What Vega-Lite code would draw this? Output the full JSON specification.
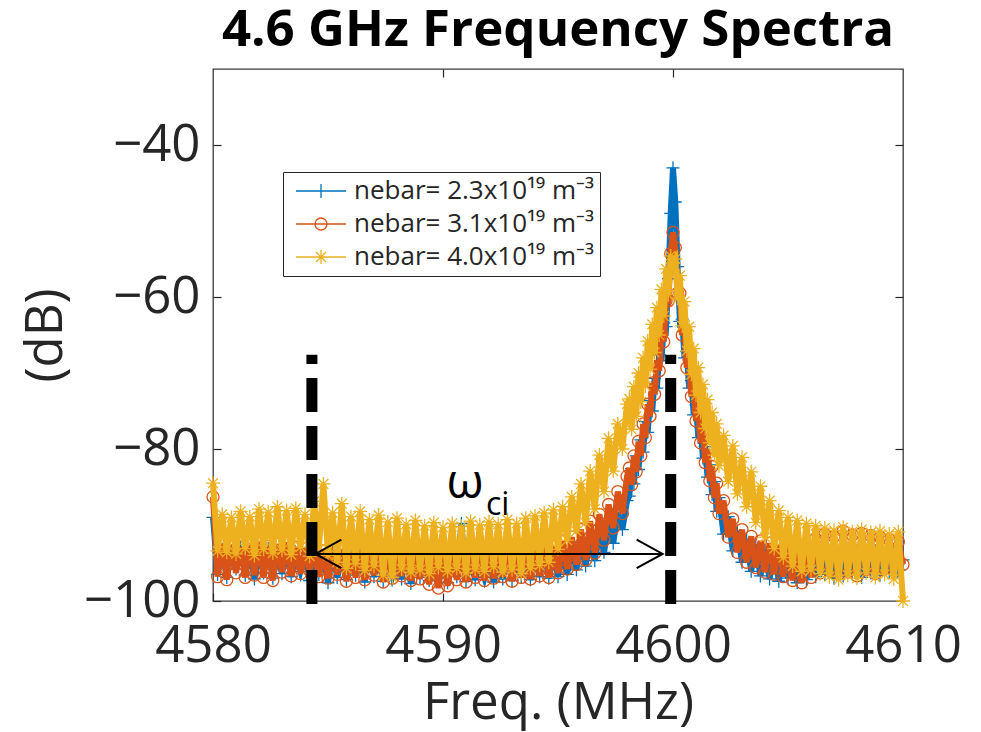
{
  "$schema": "https://vega.github.io/schema/vega-lite/v6.json",
  "width": 690,
  "height": 532,
  "autosize": "none",
  "padding": {"left": 213, "top": 69, "right": 78, "bottom": 131},
  "background": "white",
  "title": {"text": "4.6 GHz Frequency Spectra", "font": "Open Sans", "fontSize": 51, "fontWeight": "bold", "color": "black", "anchor": "middle", "offset": 19, "dy": 48, "baseline": "alphabetic", "frame": "group"},
  "config": {
    "view": {"stroke": "#3a3a3a", "strokeWidth": 1.3},
    "axis": {"labelFont": "Open Sans", "labelFontSize": 51, "labelColor": "#262626", "titleFont": "Open Sans", "titleFontSize": 51, "titleFontWeight": "normal", "titleColor": "#262626", "domain": false, "grid": false, "tickColor": "#262626", "tickSize": -8, "tickWidth": 1.2, "labelFlush": false, "labelOverlap": false}
  },
  "layer": [
    {
      "data": {"values": [
        {"f":4580.0,"a":-89.0,"b":-86.3,"c":-84.5},
        {"f":4580.2,"a":-96.5,"b":-96.8,"c":-93.4},
        {"f":4580.4,"a":-93.2,"b":-92.5,"c":-88.6},
        {"f":4580.6,"a":-96.9,"b":-97.2,"c":-93.6},
        {"f":4580.8,"a":-93.5,"b":-92.6,"c":-89.0},
        {"f":4581.0,"a":-95.8,"b":-96.3,"c":-93.8},
        {"f":4581.2,"a":-92.9,"b":-92.9,"c":-88.2},
        {"f":4581.4,"a":-96.6,"b":-96.9,"c":-93.1},
        {"f":4581.6,"a":-93.4,"b":-92.4,"c":-88.9},
        {"f":4581.8,"a":-97.1,"b":-96.6,"c":-94.0},
        {"f":4582.0,"a":-93.8,"b":-92.2,"c":-87.9},
        {"f":4582.2,"a":-96.3,"b":-96.9,"c":-93.2},
        {"f":4582.4,"a":-93.1,"b":-92.8,"c":-88.3},
        {"f":4582.6,"a":-97.0,"b":-97.3,"c":-93.7},
        {"f":4582.8,"a":-94.0,"b":-92.5,"c":-87.6},
        {"f":4583.0,"a":-96.4,"b":-96.2,"c":-93.3},
        {"f":4583.2,"a":-93.3,"b":-92.3,"c":-88.1},
        {"f":4583.4,"a":-96.8,"b":-96.7,"c":-93.9},
        {"f":4583.6,"a":-94.1,"b":-92.9,"c":-87.8},
        {"f":4583.8,"a":-96.1,"b":-96.4,"c":-92.9},
        {"f":4584.0,"a":-93.7,"b":-93.1,"c":-88.6},
        {"f":4584.2,"a":-97.3,"b":-96.0,"c":-94.1},
        {"f":4584.4,"a":-93.9,"b":-92.6,"c":-86.9},
        {"f":4584.6,"a":-96.5,"b":-96.8,"c":-93.2},
        {"f":4584.8,"a":-94.2,"b":-93.4,"c":-84.6},
        {"f":4585.0,"a":-97.6,"b":-97.0,"c":-94.0},
        {"f":4585.2,"a":-93.6,"b":-93.0,"c":-88.4},
        {"f":4585.4,"a":-96.9,"b":-96.5,"c":-94.9},
        {"f":4585.6,"a":-94.4,"b":-93.2,"c":-87.2},
        {"f":4585.8,"a":-97.2,"b":-97.4,"c":-95.7},
        {"f":4586.0,"a":-94.0,"b":-93.6,"c":-88.9},
        {"f":4586.2,"a":-96.6,"b":-96.9,"c":-95.1},
        {"f":4586.4,"a":-94.3,"b":-93.1,"c":-88.2},
        {"f":4586.6,"a":-97.5,"b":-97.2,"c":-96.0},
        {"f":4586.8,"a":-93.8,"b":-93.5,"c":-89.3},
        {"f":4587.0,"a":-96.8,"b":-96.6,"c":-95.4},
        {"f":4587.2,"a":-94.5,"b":-93.7,"c":-88.7},
        {"f":4587.4,"a":-97.4,"b":-97.5,"c":-96.6},
        {"f":4587.6,"a":-94.1,"b":-93.3,"c":-89.6},
        {"f":4587.8,"a":-96.7,"b":-97.0,"c":-96.9},
        {"f":4588.0,"a":-94.6,"b":-93.8,"c":-89.1},
        {"f":4588.2,"a":-97.1,"b":-96.7,"c":-95.8},
        {"f":4588.4,"a":-94.2,"b":-93.4,"c":-89.9},
        {"f":4588.6,"a":-97.7,"b":-97.3,"c":-96.2},
        {"f":4588.8,"a":-94.7,"b":-93.9,"c":-89.4},
        {"f":4589.0,"a":-96.9,"b":-97.1,"c":-95.9},
        {"f":4589.2,"a":-94.3,"b":-93.6,"c":-90.1},
        {"f":4589.4,"a":-97.3,"b":-97.8,"c":-96.4},
        {"f":4589.6,"a":-94.8,"b":-94.0,"c":-89.7},
        {"f":4589.8,"a":-97.0,"b":-98.3,"c":-95.6},
        {"f":4590.0,"a":-94.4,"b":-93.7,"c":-90.3},
        {"f":4590.2,"a":-97.6,"b":-98.0,"c":-96.1},
        {"f":4590.4,"a":-94.9,"b":-94.1,"c":-89.8},
        {"f":4590.6,"a":-96.8,"b":-97.2,"c":-95.7},
        {"f":4590.8,"a":-89.8,"b":-93.8,"c":-90.2},
        {"f":4591.0,"a":-97.4,"b":-97.5,"c":-96.3},
        {"f":4591.2,"a":-94.6,"b":-93.5,"c":-89.5},
        {"f":4591.4,"a":-97.2,"b":-96.9,"c":-95.8},
        {"f":4591.6,"a":-94.9,"b":-93.9,"c":-90.0},
        {"f":4591.8,"a":-96.9,"b":-97.3,"c":-96.1},
        {"f":4592.0,"a":-94.5,"b":-93.6,"c":-89.6},
        {"f":4592.2,"a":-97.5,"b":-97.0,"c":-95.5},
        {"f":4592.4,"a":-94.7,"b":-93.4,"c":-89.9},
        {"f":4592.6,"a":-97.1,"b":-96.8,"c":-96.2},
        {"f":4592.8,"a":-94.3,"b":-93.7,"c":-89.3},
        {"f":4593.0,"a":-97.3,"b":-97.4,"c":-95.9},
        {"f":4593.2,"a":-94.8,"b":-93.2,"c":-89.8},
        {"f":4593.4,"a":-96.9,"b":-96.9,"c":-96.4},
        {"f":4593.6,"a":-94.2,"b":-93.5,"c":-89.1},
        {"f":4593.8,"a":-97.2,"b":-97.1,"c":-95.7},
        {"f":4594.0,"a":-94.6,"b":-93.3,"c":-88.8},
        {"f":4594.2,"a":-96.8,"b":-96.7,"c":-95.3},
        {"f":4594.4,"a":-94.1,"b":-93.0,"c":-88.4},
        {"f":4594.6,"a":-97.0,"b":-96.9,"c":-94.9},
        {"f":4594.8,"a":-93.9,"b":-92.8,"c":-88.0},
        {"f":4595.0,"a":-96.8,"b":-96.3,"c":-93.2},
        {"f":4595.2,"a":-93.5,"b":-92.1,"c":-87.6},
        {"f":4595.4,"a":-96.5,"b":-95.8,"c":-92.0},
        {"f":4595.6,"a":-92.8,"b":-91.6,"c":-86.3},
        {"f":4595.8,"a":-95.9,"b":-95.2,"c":-90.8},
        {"f":4596.0,"a":-92.3,"b":-90.6,"c":-84.6},
        {"f":4596.2,"a":-95.4,"b":-94.6,"c":-89.7},
        {"f":4596.4,"a":-91.8,"b":-89.5,"c":-82.9},
        {"f":4596.6,"a":-94.7,"b":-93.7,"c":-87.9},
        {"f":4596.8,"a":-90.9,"b":-88.6,"c":-80.8},
        {"f":4597.0,"a":-93.6,"b":-92.0,"c":-85.6},
        {"f":4597.2,"a":-89.9,"b":-87.3,"c":-78.6},
        {"f":4597.4,"a":-92.4,"b":-90.4,"c":-82.9},
        {"f":4597.6,"a":-88.4,"b":-85.6,"c":-76.7},
        {"f":4597.8,"a":-90.6,"b":-88.5,"c":-80.0},
        {"f":4598.0,"a":-86.8,"b":-83.6,"c":-74.1},
        {"f":4598.1,"a":-86.2,"b":-82.5,"c":-73.4},
        {"f":4598.2,"a":-82.6,"b":-84.7,"c":-77.4},
        {"f":4598.3,"a":-84.6,"b":-80.9,"c":-71.8},
        {"f":4598.4,"a":-80.9,"b":-83.0,"c":-75.7},
        {"f":4598.5,"a":-82.7,"b":-79.0,"c":-70.0},
        {"f":4598.6,"a":-78.8,"b":-80.9,"c":-73.8},
        {"f":4598.7,"a":-80.4,"b":-76.7,"c":-68.0},
        {"f":4598.8,"a":-76.4,"b":-78.5,"c":-71.7},
        {"f":4598.9,"a":-77.8,"b":-74.1,"c":-65.8},
        {"f":4599.0,"a":-73.6,"b":-75.7,"c":-69.5},
        {"f":4599.1,"a":-75.0,"b":-71.3,"c":-63.6},
        {"f":4599.2,"a":-70.7,"b":-72.8,"c":-67.3},
        {"f":4599.3,"a":-72.0,"b":-68.3,"c":-61.4},
        {"f":4599.4,"a":-67.6,"b":-69.7,"c":-65.0},
        {"f":4599.5,"a":-68.4,"b":-64.9,"c":-59.0},
        {"f":4599.6,"a":-63.4,"b":-65.9,"c":-62.5},
        {"f":4599.7,"a":-63.9,"b":-60.5,"c":-56.3},
        {"f":4599.8,"a":-57.6,"b":-60.5,"c":-59.7},
        {"f":4599.9,"a":-49.0,"b":-54.3,"c":-54.6},
        {"f":4600.0,"a":-43.0,"b":-51.5,"c":-55.5},
        {"f":4600.1,"a":-47.5,"b":-53.5,"c":-55.0},
        {"f":4600.2,"a":-56.0,"b":-59.5,"c":-60.2},
        {"f":4600.3,"a":-63.2,"b":-59.5,"c":-57.2},
        {"f":4600.4,"a":-62.9,"b":-65.0,"c":-63.8},
        {"f":4600.5,"a":-68.0,"b":-64.3,"c":-60.6},
        {"f":4600.6,"a":-67.2,"b":-69.3,"c":-67.1},
        {"f":4600.7,"a":-72.0,"b":-68.3,"c":-63.9},
        {"f":4600.8,"a":-71.0,"b":-73.1,"c":-70.2},
        {"f":4600.9,"a":-75.5,"b":-71.8,"c":-66.8},
        {"f":4601.0,"a":-74.2,"b":-76.3,"c":-72.9},
        {"f":4601.1,"a":-78.5,"b":-74.8,"c":-69.3},
        {"f":4601.2,"a":-77.1,"b":-79.2,"c":-75.2},
        {"f":4601.3,"a":-81.2,"b":-77.5,"c":-71.5},
        {"f":4601.4,"a":-79.7,"b":-81.8,"c":-77.3},
        {"f":4601.5,"a":-83.7,"b":-80.0,"c":-73.5},
        {"f":4601.6,"a":-82.1,"b":-84.2,"c":-79.2},
        {"f":4601.7,"a":-86.0,"b":-82.3,"c":-75.2},
        {"f":4601.8,"a":-84.3,"b":-86.4,"c":-80.8},
        {"f":4601.9,"a":-88.2,"b":-84.5,"c":-76.7},
        {"f":4602.0,"a":-86.4,"b":-88.5,"c":-82.2},
        {"f":4602.2,"a":-91.2,"b":-86.8,"c":-78.2},
        {"f":4602.4,"a":-88.9,"b":-91.6,"c":-84.3},
        {"f":4602.6,"a":-93.4,"b":-89.2,"c":-79.6},
        {"f":4602.8,"a":-90.8,"b":-93.6,"c":-85.9},
        {"f":4603.0,"a":-94.9,"b":-90.6,"c":-81.1},
        {"f":4603.2,"a":-91.9,"b":-94.9,"c":-87.6},
        {"f":4603.4,"a":-96.1,"b":-91.5,"c":-83.0},
        {"f":4603.6,"a":-92.6,"b":-95.6,"c":-89.7},
        {"f":4603.8,"a":-96.7,"b":-92.1,"c":-84.9},
        {"f":4604.0,"a":-93.2,"b":-96.2,"c":-91.6},
        {"f":4604.2,"a":-97.1,"b":-92.4,"c":-86.8},
        {"f":4604.4,"a":-93.4,"b":-96.5,"c":-93.1},
        {"f":4604.6,"a":-97.4,"b":-92.6,"c":-88.1},
        {"f":4604.8,"a":-93.6,"b":-96.8,"c":-94.3},
        {"f":4605.0,"a":-97.0,"b":-92.5,"c":-89.0},
        {"f":4605.2,"a":-93.8,"b":-97.3,"c":-95.4},
        {"f":4605.4,"a":-97.6,"b":-92.8,"c":-89.4},
        {"f":4605.6,"a":-93.5,"b":-97.6,"c":-96.1},
        {"f":4605.8,"a":-97.2,"b":-92.7,"c":-89.8},
        {"f":4606.0,"a":-94.0,"b":-96.9,"c":-95.9},
        {"f":4606.2,"a":-96.8,"b":-91.8,"c":-90.1},
        {"f":4606.4,"a":-93.6,"b":-96.3,"c":-96.4},
        {"f":4606.6,"a":-96.5,"b":-91.2,"c":-90.4},
        {"f":4606.8,"a":-93.9,"b":-96.0,"c":-96.8},
        {"f":4607.0,"a":-97.0,"b":-91.5,"c":-90.7},
        {"f":4607.2,"a":-94.1,"b":-96.5,"c":-97.2},
        {"f":4607.4,"a":-96.7,"b":-90.8,"c":-90.3},
        {"f":4607.6,"a":-93.7,"b":-96.2,"c":-96.6},
        {"f":4607.8,"a":-96.4,"b":-91.3,"c":-90.9},
        {"f":4608.0,"a":-93.5,"b":-96.7,"c":-97.0},
        {"f":4608.2,"a":-96.9,"b":-91.1,"c":-90.6},
        {"f":4608.4,"a":-93.8,"b":-95.9,"c":-96.3},
        {"f":4608.6,"a":-96.3,"b":-91.4,"c":-91.0},
        {"f":4608.8,"a":-93.4,"b":-96.4,"c":-96.9},
        {"f":4609.0,"a":-96.6,"b":-91.6,"c":-90.8},
        {"f":4609.2,"a":-93.9,"b":-95.8,"c":-96.5},
        {"f":4609.4,"a":-96.2,"b":-91.9,"c":-91.2},
        {"f":4609.6,"a":-93.6,"b":-96.0,"c":-97.1},
        {"f":4609.8,"a":-95.9,"b":-92.2,"c":-90.9},
        {"f":4610.0,"a":-94.6,"b":-95.2,"c":-100.0}
      ]},
      "transform": [{"fold": ["a", "b", "c"], "as": ["s", "v"]}],
      "layer": [
        {
          "transform": [{"filter": "datum.s === 'a'"}],
          "mark": {"type": "line", "strokeWidth": 6},
          "encoding": {
            "x": {"field": "f", "type": "quantitative", "scale": {"domain": [4580, 4610], "nice": false, "zero": false},
              "axis": {"values": [4580, 4590, 4600, 4610], "format": "d", "title": "Freq. (MHz)", "labelPadding": 28, "titleX": 345, "titleY": 117, "titleAlign": "center", "titleBaseline": "alphabetic"}},
            "y": {"field": "v", "type": "quantitative", "scale": {"domain": [-100, -30], "nice": false, "zero": false},
              "axis": {"values": [-100, -80, -60, -40], "format": "d", "title": "(dB)", "labelPadding": 21, "titleX": -167, "titleY": 266, "titleAngle": -90, "titleAlign": "center", "titleBaseline": "middle"}},
            "color": {"field": "s", "type": "nominal", "scale": {"domain": ["a", "b", "c"], "range": ["#0072BD", "#D95319", "#EDB120"]},
              "legend": {"orient": "none", "legendX": 70, "legendY": 103, "title": null,
                "labelExpr": "datum.value === 'a' ? 'nebar= 2.3x10¹⁹ m⁻³' : datum.value === 'b' ? 'nebar= 3.1x10¹⁹ m⁻³' : 'nebar= 4.0x10¹⁹ m⁻³'",
                "symbolSize": 400, "labelOffset": 39, "padding": 6, "rowPadding": 7, "strokeColor": "#262626", "fillColor": "white",
                "labelFont": "Open Sans", "labelFontSize": 26, "labelColor": "#262626", "labelLimit": 400, "symbolStrokeWidth": 1.3,
                "encode": {"symbols": {"update": {
                  "shape": {"signal": "datum.value === 'a' ? 'M-0.6,0H4.4M1.9,-0.7V0.7' : datum.value === 'b' ? 'M-0.6,0H4.4M1.3,0A0.6,0.6,0,1,0,2.5,0A0.6,0.6,0,1,0,1.3,0' : 'M-0.6,0H4.4M1.9,-0.7V0.7M1.4,-0.5L2.4,0.5M1.4,0.5L2.4,-0.5'"},
                  "fill": {"value": "transparent"},
                  "strokeWidth": {"value": 1.3},
                  "opacity": {"value": 1}
                }}}}}
          }
        },
        {
          "transform": [{"filter": "datum.s === 'a'"}],
          "mark": {"type": "point", "filled": false, "shape": "M-1,0H1M0,-1V1", "size": 169, "strokeWidth": 1.3, "opacity": 1},
          "encoding": {
            "x": {"field": "f", "type": "quantitative", "scale": {"domain": [4580, 4610], "nice": false, "zero": false}},
            "y": {"field": "v", "type": "quantitative", "scale": {"domain": [-100, -30], "nice": false, "zero": false}},
            "color": {"field": "s", "type": "nominal", "scale": {"domain": ["a", "b", "c"], "range": ["#0072BD", "#D95319", "#EDB120"]}, "legend": null}
          }
        },
        {
          "transform": [{"filter": "datum.s === 'b'"}],
          "mark": {"type": "line", "strokeWidth": 6},
          "encoding": {
            "x": {"field": "f", "type": "quantitative", "scale": {"domain": [4580, 4610], "nice": false, "zero": false}},
            "y": {"field": "v", "type": "quantitative", "scale": {"domain": [-100, -30], "nice": false, "zero": false}},
            "color": {"field": "s", "type": "nominal", "scale": {"domain": ["a", "b", "c"], "range": ["#0072BD", "#D95319", "#EDB120"]}, "legend": null}
          }
        },
        {
          "transform": [{"filter": "datum.s === 'b'"}],
          "mark": {"type": "point", "filled": false, "shape": "circle", "size": 144, "strokeWidth": 1.3, "opacity": 1},
          "encoding": {
            "x": {"field": "f", "type": "quantitative", "scale": {"domain": [4580, 4610], "nice": false, "zero": false}},
            "y": {"field": "v", "type": "quantitative", "scale": {"domain": [-100, -30], "nice": false, "zero": false}},
            "color": {"field": "s", "type": "nominal", "scale": {"domain": ["a", "b", "c"], "range": ["#0072BD", "#D95319", "#EDB120"]}, "legend": null}
          }
        },
        {
          "transform": [{"filter": "datum.s === 'c'"}],
          "mark": {"type": "line", "strokeWidth": 6},
          "encoding": {
            "x": {"field": "f", "type": "quantitative", "scale": {"domain": [4580, 4610], "nice": false, "zero": false}},
            "y": {"field": "v", "type": "quantitative", "scale": {"domain": [-100, -30], "nice": false, "zero": false}},
            "color": {"field": "s", "type": "nominal", "scale": {"domain": ["a", "b", "c"], "range": ["#0072BD", "#D95319", "#EDB120"]}, "legend": null}
          }
        },
        {
          "transform": [{"filter": "datum.s === 'c'"}],
          "mark": {"type": "point", "filled": false, "shape": "M-1,0H1M0,-1V1M-0.7,-0.7L0.7,0.7M-0.7,0.7L0.7,-0.7", "size": 196, "strokeWidth": 1.3, "opacity": 1},
          "encoding": {
            "x": {"field": "f", "type": "quantitative", "scale": {"domain": [4580, 4610], "nice": false, "zero": false}},
            "y": {"field": "v", "type": "quantitative", "scale": {"domain": [-100, -30], "nice": false, "zero": false}},
            "color": {"field": "s", "type": "nominal", "scale": {"domain": ["a", "b", "c"], "range": ["#0072BD", "#D95319", "#EDB120"]}, "legend": null}
          }
        }
      ]
    },
    {
      "data": {"values": [{"x": 4584.3, "y1": -100.4, "y2": -67.6}, {"x": 4599.9, "y1": -100.4, "y2": -67.6}]},
      "mark": {"type": "rule", "color": "black", "strokeWidth": 11, "strokeDash": [34, 14], "strokeCap": "butt"},
      "encoding": {
        "x": {"field": "x", "type": "quantitative", "scale": {"domain": [4580, 4610], "nice": false, "zero": false}, "axis": null},
        "y": {"field": "y1", "type": "quantitative", "scale": {"domain": [-100, -30], "nice": false, "zero": false}, "axis": null},
        "y2": {"field": "y2"}
      }
    },
    {
      "data": {"values": [{"x1": 4584.45, "x2": 4599.55, "y": -93.8}]},
      "mark": {"type": "rule", "color": "black", "strokeWidth": 2},
      "encoding": {
        "x": {"field": "x1", "type": "quantitative", "scale": {"domain": [4580, 4610], "nice": false, "zero": false}, "axis": null},
        "x2": {"field": "x2"},
        "y": {"field": "y", "type": "quantitative", "scale": {"domain": [-100, -30], "nice": false, "zero": false}, "axis": null}
      }
    },
    {
      "data": {"values": [{"x": 4584.45, "y": -93.8}]},
      "mark": {"type": "point", "filled": false, "shape": "M2,-1.1L0,0L2,1.1", "size": 676, "color": "black", "strokeWidth": 2, "opacity": 1},
      "encoding": {
        "x": {"field": "x", "type": "quantitative", "scale": {"domain": [4580, 4610], "nice": false, "zero": false}, "axis": null},
        "y": {"field": "y", "type": "quantitative", "scale": {"domain": [-100, -30], "nice": false, "zero": false}, "axis": null}
      }
    },
    {
      "data": {"values": [{"x": 4599.55, "y": -93.8}]},
      "mark": {"type": "point", "filled": false, "shape": "M-2,-1.1L0,0L-2,1.1", "size": 676, "color": "black", "strokeWidth": 2, "opacity": 1},
      "encoding": {
        "x": {"field": "x", "type": "quantitative", "scale": {"domain": [4580, 4610], "nice": false, "zero": false}, "axis": null},
        "y": {"field": "y", "type": "quantitative", "scale": {"domain": [-100, -30], "nice": false, "zero": false}, "axis": null}
      }
    },
    {
      "data": {"values": [{"x": 4590.15, "y": -86.45, "t": "ω"}]},
      "mark": {"type": "text", "font": "Open Sans", "fontSize": 48, "align": "left", "baseline": "alphabetic", "color": "black"},
      "encoding": {
        "x": {"field": "x", "type": "quantitative", "scale": {"domain": [4580, 4610], "nice": false, "zero": false}, "axis": null},
        "y": {"field": "y", "type": "quantitative", "scale": {"domain": [-100, -30], "nice": false, "zero": false}, "axis": null},
        "text": {"field": "t"}
      }
    },
    {
      "data": {"values": [{"x": 4591.87, "y": -88.7, "t": "ci"}]},
      "mark": {"type": "text", "font": "Open Sans", "fontSize": 32, "align": "left", "baseline": "alphabetic", "color": "black"},
      "encoding": {
        "x": {"field": "x", "type": "quantitative", "scale": {"domain": [4580, 4610], "nice": false, "zero": false}, "axis": null},
        "y": {"field": "y", "type": "quantitative", "scale": {"domain": [-100, -30], "nice": false, "zero": false}, "axis": null},
        "text": {"field": "t"}
      }
    },
    {
      "data": {"values": [{"x": 4580, "y": -100}]},
      "mark": {"type": "point", "opacity": 0},
      "encoding": {
        "x": {"field": "x", "type": "quantitative", "scale": {"domain": [4580, 4610], "nice": false, "zero": false},
          "axis": {"orient": "top", "values": [4590, 4600], "labels": false, "title": null}},
        "y": {"field": "y", "type": "quantitative", "scale": {"domain": [-100, -30], "nice": false, "zero": false},
          "axis": {"orient": "right", "values": [-80, -60, -40], "labels": false, "title": null}}
      }
    }
  ],
  "resolve": {"axis": {"x": "independent", "y": "independent"}}
}
